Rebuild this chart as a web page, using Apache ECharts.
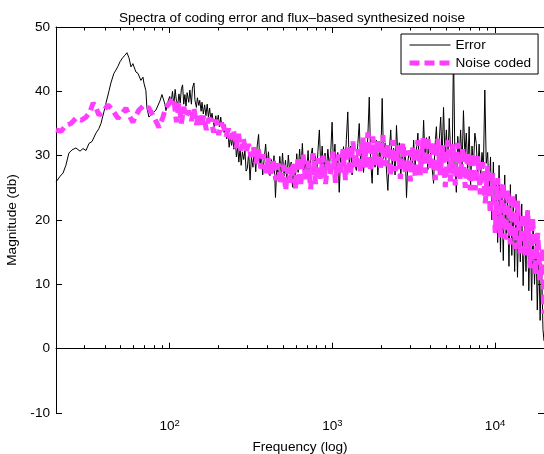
<!DOCTYPE html>
<html>
<head>
<meta charset="utf-8">
<script src="https://cdn.jsdelivr.net/npm/echarts@6/dist/echarts.min.js"></script>
<style>
html,body{margin:0;padding:0;background:#fff;}
#chart{width:544px;height:454px;}
</style>
</head>
<body>
<div id="chart"></div>
<script>
var titleText = 'Spectra of coding error and flux\u2013based synthesized noise';
var seriesNames = ['Error', 'Noise coded'];
var xMajorTicks = [100, 1000, 10000];
var xMinorTicks = [30, 40, 50, 60, 70, 80, 90, 200, 300, 400, 500, 600, 700, 800, 900,
  2000, 3000, 4000, 5000, 6000, 7000, 8000, 9000];
var xRange = [20, 20000];
var yRange = [-10, 50];
var yStep = 10;

var errFreq = [20, 21.2, 22.1, 23.0, 24.0, 25.1, 26.5, 28.1, 29.3, 30.6,
  31.9, 33.3, 35.2, 36.7, 37.8, 39.4, 40.6, 42.3, 43.5, 45.4,
  46.7, 48.1, 49.5, 51.6, 53.1, 54.6, 56.2, 57.8, 59.4, 62.0,
  63.8, 66.5, 68.5, 69.4, 71.4, 72.4, 74.5, 77.8, 80.0, 82.3,
  84.6, 87.1, 89.6, 90.9, 93.5, 94.8, 97.5,
  100, 102, 104, 106, 108, 110, 112, 114, 116, 118,
  120, 122, 124, 126, 128, 131, 133, 136, 138, 141,
  143, 146, 148, 151, 153, 156, 158, 161, 164, 167,
  170, 173, 176, 179, 182, 185, 188, 192, 195, 199,
  202, 206, 209, 213, 216, 220, 224, 228, 232, 236,
  240, 244, 248, 253, 257, 262, 266, 271, 275, 280,
  285, 290, 295,
  300, 306, 312, 318, 325, 331, 338, 345, 352, 359,
  366, 373, 381, 389, 397, 405, 413, 421, 430, 438,
  447, 456, 466, 475, 485, 494, 504, 515, 525, 536,
  547, 558, 569, 580, 592, 604, 616, 629, 641, 654,
  668, 681, 695, 709, 723, 738, 753, 768, 783, 799,
  815, 832, 849, 866, 883, 901, 919, 938, 957, 976, 996,
  1016, 1037, 1058, 1080, 1102, 1124, 1147, 1171, 1195, 1219,
  1244, 1270, 1296, 1322, 1349, 1377, 1405, 1434, 1463, 1493,
  1524, 1555, 1587, 1619, 1652, 1686, 1721, 1756, 1792, 1829,
  1866, 1904, 1943, 1983, 2024, 2065, 2107, 2150, 2194, 2239,
  2285, 2332, 2380, 2429, 2478, 2529, 2581, 2634, 2688, 2743,
  2799, 2856, 2914, 2974,
  3035, 3097, 3160, 3224, 3290, 3357, 3425, 3495, 3566, 3639,
  3713, 3788, 3865, 3944, 4024, 4106, 4190, 4275, 4362, 4451,
  4541, 4634, 4728, 4824, 4922, 5022, 5125, 5229, 5335, 5444,
  5555, 5668, 5783, 5901, 6021, 6144, 6269, 6396, 6526, 6659,
  6795, 6933, 7074, 7218, 7365, 7515, 7668, 7824, 7983, 8146,
  8312, 8481, 8654, 8830, 9010, 9193, 9380, 9571, 9766, 9965,
  10170, 10380, 10590, 10800, 11020, 11240, 11470, 11700, 11940, 12180,
  12430, 12680, 12940, 13200, 13470, 13740, 14020, 14300, 14590, 14890,
  15190, 15500, 15810, 16130, 16460, 16790, 17130, 17480, 17830, 18190,
  18560, 18940, 19320, 19710, 20000];

var errDb = [25.9, 26.8, 27.3, 28.5, 30.4, 30.9, 31.2, 30.7, 31.1, 30.8,
  31.9, 32.2, 33.5, 34.2, 35.0, 36.8, 38.2, 40.0, 41.3, 42.8,
  43.3, 43.9, 44.6, 45.3, 45.6, 46.0, 45.2, 43.8, 44.3, 43.0,
  42.8, 41.7, 42.2, 41.3, 40.1, 37.5, 36.0, 36.5, 36.2, 37.1,
  36.8, 38.5, 39.5, 39.7, 38.0, 37.0, 38.4,
  39.2, 38.2, 40.0, 37.8, 40.3, 38.5, 37.9, 39.6, 38.2, 40.4,
  41.0, 38.0, 39.5, 37.7, 39.8, 38.3, 40.2, 38.0, 40.5, 41.3,
  38.6, 37.5, 39.0, 37.8, 38.6, 36.9, 38.3, 36.5, 37.9, 36.2,
  38.0, 36.0, 37.4, 35.6, 36.6, 35.4, 34.4, 36.2, 35.0, 36.3,
  34.5, 36.0, 34.4, 35.2, 33.6, 34.8, 32.6, 33.8, 31.3, 33.0,
  31.6, 32.8, 31.0, 32.6, 29.8, 31.4, 29.0, 31.2, 28.5, 30.6,
  29.4, 30.8, 27.6,
  28.0, 30.5, 26.2, 29.8, 28.2, 30.8, 27.5, 31.5, 33.3, 28.4,
  30.2, 27.0, 29.5, 31.8, 28.3, 30.6, 26.9, 29.4, 27.8, 30.0,
  23.5, 28.6, 26.4, 29.9, 27.2, 30.4, 26.8, 29.3, 26.0, 30.1,
  27.5, 29.0, 25.1, 28.7, 26.5, 30.3, 27.4, 31.0, 28.0, 31.9,
  26.8, 29.6, 27.0, 30.8, 26.4, 29.9, 31.2, 27.3, 30.0, 26.5,
  30.7, 34.0, 28.0, 31.5, 26.8, 30.4, 27.6, 31.0, 28.4, 30.2, 35.2,
  28.5, 31.8, 27.2, 30.5, 24.3, 29.8, 27.5, 31.4, 28.0, 32.5,
  36.8, 28.3, 31.5, 27.0, 30.2, 28.6, 27.7, 31.9, 35.0, 29.0,
  32.3, 27.4, 31.0, 28.5, 33.0, 39.1, 29.0, 25.7, 31.6, 28.2,
  32.4, 27.0, 30.8, 29.0, 38.9, 29.5, 32.0, 27.8, 24.6, 30.6,
  34.0, 28.4, 31.2, 27.0, 34.7, 29.6, 32.0, 26.8, 30.5, 28.0,
  31.3, 23.5, 29.2, 30.8,
  30.5, 27.6, 32.4, 28.3, 31.0, 33.5, 28.2, 31.6, 29.0, 35.5,
  29.3, 32.8, 27.8, 33.0, 30.0, 28.0, 25.7, 31.5, 34.5, 28.5,
  32.4, 36.0, 29.5, 37.5, 30.0, 34.0, 28.6, 35.8, 30.4, 27.6,
  46.5, 29.0, 24.3, 33.0, 29.5, 34.0, 28.2, 37.0, 30.0, 33.5,
  28.0, 34.5, 25.1, 31.5, 28.4, 33.5, 31.9, 27.0, 31.8, 26.5,
  30.5, 28.0, 40.2, 28.8, 30.5, 24.0, 29.8, 20.0, 29.0, 18.5,
  26.0, 16.5, 28.5, 15.0, 25.5, 13.7, 27.0, 17.0, 24.0, 12.8,
  25.5, 14.5, 22.5, 12.0, 24.0, 11.1, 21.0, 13.5, 22.5, 9.8,
  20.0, 12.0, 21.5, 9.0, 19.0, 7.5, 20.0, 10.0, 17.5, 6.0,
  15.0, 4.4, 13.2, 3.0, 1.2];

var noiseFreq = [20, 21.5, 23.0, 24.7, 26.5, 28.5, 30.6, 32.4, 33.8, 35.2,
  36.7, 38.9, 41.7, 44.8, 48.1, 50.9, 53.8, 57.0, 59.4, 62.0,
  64.7, 69.4, 74.5, 80.0, 85.9, 90.9, 94.8, 100,
  106, 110, 114, 118, 122, 126, 131, 136, 141, 146,
  151, 156, 162, 168, 174, 180, 186, 193, 200, 207,
  214, 222, 230, 238, 247, 256, 265, 274, 284, 294,
  305, 316, 327, 339, 351, 363, 376, 390, 404, 418,
  433, 449, 465, 481, 499, 516, 535, 554, 574, 595,
  616, 638, 661, 685, 709, 735, 761, 788, 817, 846,
  876, 908, 940, 974, 1009, 1045, 1083, 1122, 1162, 1204,
  1247, 1292, 1338, 1386, 1436, 1488, 1541, 1597, 1654, 1713,
  1775, 1839, 1905, 1973, 2044, 2118, 2194, 2273, 2355, 2439,
  2527, 2618, 2712, 2810, 2911, 3015, 3124, 3236, 3352, 3473,
  3598, 3727, 3861, 4000, 4144, 4293, 4447, 4607, 4773, 4945,
  5123, 5307, 5498, 5696, 5901, 6113, 6333, 6561, 6797, 7042,
  7295, 7558, 7830, 8112, 8404, 8706, 9019, 9344, 9680, 10029,
  10390, 10764, 11151, 11552, 11968, 12399, 12845, 13307, 13786, 14282,
  14796, 15329, 15881, 16453, 17045, 17659, 18295, 18953, 19635, 20000];

var noiseDb = [34.0, 33.8, 34.7, 35.0, 35.8, 35.5, 36.0, 36.8, 38.2, 37.5,
  36.3, 36.8, 37.9, 37.0, 35.8, 36.5, 37.4, 36.0, 35.2, 36.2,
  37.1, 37.8, 37.4, 36.0, 34.4, 36.0, 37.5, 38.2,
  38.9, 35.2, 38.2, 35.0, 37.6, 36.0, 37.0, 35.4, 37.4, 34.8,
  36.6, 34.4, 36.2, 34.0, 35.8, 35.5, 33.6, 35.6, 33.2, 35.0,
  34.6, 33.0, 34.2, 32.6, 34.0, 31.2, 33.4, 30.8, 32.6, 30.5,
  31.8, 29.8, 31.3, 28.8, 31.0, 28.0, 30.2, 27.3, 29.6, 26.8,
  29.4, 26.2, 28.8, 25.5, 28.6, 24.6, 28.2, 25.8, 29.0, 24.8,
  29.8, 25.2, 30.2, 26.0, 29.2, 24.8, 30.4, 25.6, 29.6, 26.4,
  30.0, 25.6, 29.4, 26.8, 30.6, 25.8, 30.2, 27.0, 31.0, 26.2,
  31.5, 27.0, 32.2, 28.0, 31.0, 27.4, 32.8, 28.2, 33.6, 27.7,
  33.0, 28.6, 32.6, 27.8, 33.2, 28.4, 31.8, 26.8, 32.4, 27.6,
  31.6, 26.4, 32.0, 27.2, 30.8, 26.0, 31.4, 26.6, 32.4, 27.0,
  32.7, 27.3, 33.0, 28.0, 32.2, 26.2, 32.6, 27.0, 31.6, 25.1,
  32.4, 26.0, 31.8, 25.4, 32.0, 26.4, 31.2, 25.0, 30.6, 24.6,
  30.4, 24.6, 30.0, 24.0, 29.0, 22.6, 28.4, 21.0, 27.3, 18.0,
  26.5, 17.3, 25.6, 17.0, 24.8, 16.2, 24.0, 15.5, 23.0, 14.8,
  21.0, 14.5, 21.5, 12.5, 20.4, 11.5, 18.0, 10.6, 15.7, 5.4];

function pairs(xs, ys) {
  var n = Math.min(xs.length, ys.length), out = [];
  for (var i = 0; i < n; i++) out.push([xs[i], ys[i]]);
  return out;
}

var FONT = 'Liberation Sans, Helvetica, Arial, sans-serif';
var FS = 13.6;
var BLACK = '#000';
var MAGENTA = '#ff3dff';

function xAxisDef(pos, ticks, len, showLine, showLabel) {
  return {
    type: 'log', logBase: 10, position: pos, min: xRange[0], max: xRange[1],
    gridIndex: 0,
    axisLine: { show: showLine, lineStyle: { color: BLACK, width: 1 } },
    axisTick: { show: true, inside: true, length: len, customValues: ticks,
      lineStyle: { color: BLACK, width: 1 } },
    axisLabel: showLabel ? {
      show: true, customValues: ticks, margin: 5, color: BLACK, fontFamily: FONT,
      formatter: function (v) { return '{b|10}{s|' + Math.round(Math.log10(v)) + '}'; },
      rich: {
        b: { fontSize: FS, fontFamily: FONT, color: BLACK, lineHeight: 16 },
        s: { fontSize: 9.5, fontFamily: FONT, color: BLACK, lineHeight: 10, verticalAlign: 'top' }
      }
    } : { show: false },
    splitLine: { show: false },
    minorTick: { show: false }
  };
}

var xAxes = [
  xAxisDef('bottom', xMajorTicks, 6, true, true),
  xAxisDef('bottom', xMinorTicks, 3.5, false, false),
  xAxisDef('top', xMajorTicks, 6, true, false),
  xAxisDef('top', xMinorTicks, 3.5, false, false)
];
xAxes[0].name = 'Frequency (log)';
xAxes[0].nameLocation = 'middle';
xAxes[0].nameGap = 27;
xAxes[0].nameTextStyle = { fontSize: FS, fontFamily: FONT, color: BLACK };

var chart = echarts.init(document.getElementById('chart'), null, { renderer: 'canvas' });
chart.setOption({
  animation: false,
  backgroundColor: '#fff',
  title: {
    text: titleText, left: 287, top: 6, textAlign: 'center',
    textStyle: { fontSize: FS, fontWeight: 'normal', fontFamily: FONT, color: BLACK }
  },
  grid: { left: 56, right: 0, top: 27, bottom: 41, containLabel: false, outerBoundsMode: 'none' },
  legend: {
    data: seriesNames, orient: 'vertical', left: 401, top: 34,
    padding: [4, 7, 4, 6], itemWidth: 41, itemHeight: 14, itemGap: 4,
    backgroundColor: '#fff', borderColor: BLACK, borderWidth: 1, borderRadius: 0,
    textStyle: { fontSize: FS, fontFamily: FONT, color: BLACK },
    itemStyle: { opacity: 0, borderWidth: 0 },
    lineStyle: { width: 'inherit' },
    selectedMode: false
  },
  xAxis: xAxes,
  yAxis: [
    {
      type: 'value', position: 'left', min: yRange[0], max: yRange[1], interval: yStep,
      name: 'Magnitude (db)', nameLocation: 'middle', nameGap: 33, nameRotate: 90,
      nameTextStyle: { fontSize: FS, fontFamily: FONT, color: BLACK },
      axisLine: { show: true, lineStyle: { color: BLACK, width: 1 } },
      axisTick: { show: true, inside: true, length: 6, lineStyle: { color: BLACK } },
      axisLabel: { fontSize: FS, fontFamily: FONT, color: BLACK, margin: 6 },
      splitLine: { show: false }
    },
    {
      type: 'value', position: 'right', min: yRange[0], max: yRange[1], interval: yStep,
      axisLine: { show: true, lineStyle: { color: BLACK, width: 1 } },
      axisTick: { show: true, inside: true, length: 6, lineStyle: { color: BLACK } },
      axisLabel: { show: false },
      splitLine: { show: false }
    }
  ],
  series: [
    {
      name: seriesNames[0], type: 'line', xAxisIndex: 0, yAxisIndex: 0,
      data: pairs(errFreq, errDb), symbol: 'none', showSymbol: false,
      lineStyle: { color: BLACK, width: 1 }, itemStyle: { color: BLACK },
      z: 2
    },
    {
      name: seriesNames[1], type: 'line', xAxisIndex: 0, yAxisIndex: 0,
      data: pairs(noiseFreq, noiseDb), symbol: 'none', showSymbol: false,
      lineStyle: { color: MAGENTA, width: 5, type: [10, 5], cap: 'butt' },
      itemStyle: { color: MAGENTA },
      z: 3
    }
  ]
});
</script>
</body>
</html>
